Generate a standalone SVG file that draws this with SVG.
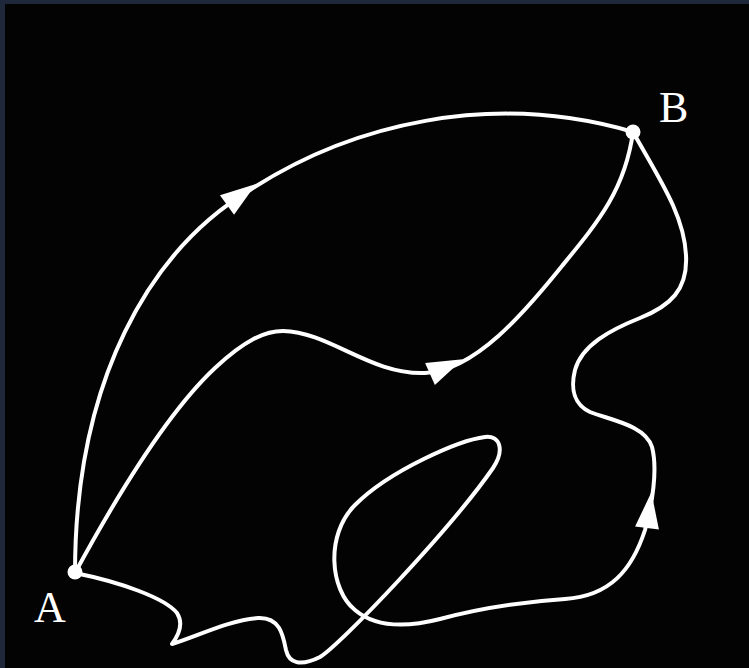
<svg xmlns="http://www.w3.org/2000/svg" width="749" height="668" viewBox="0 0 749 668">
  <defs>
    <style>
      .path { fill: none; stroke: #ffffff; stroke-width: 4; stroke-linecap: round; stroke-linejoin: round; }
      .arrow { fill: #ffffff; stroke: none; }
      .dot { fill: #ffffff; }
      .label { fill: #ffffff; font-family: "Liberation Serif", "Times New Roman", serif; font-size: 44px; }
    </style>
    <path id="arrowhead" d="M36,0 L0,-12 L0,12 Z"/>
  </defs>
  <rect x="0" y="0" width="749" height="668" fill="#1f273a"/>
  <rect x="5" y="4" width="744" height="664" fill="#030303"/>
  <g id="connectors">
    <path id="path-top" class="path" d="M75,573 C75,380 150,250 250,190 C350,125 490,90 633,132"/>
    <path id="path-middle" class="path" d="M75,573 C120,490 170,410 215,368 C245,340 265,331 283,331 C330,332 370,375 425,373 C475,371 525,312 562,266 C598,222 625,190 633,132"/>
    <path id="path-wiggle" class="path" d="M75,573 C120,582 165,598 177,613 C184,624 178,636 172,644 C200,635 230,620 258,618 C280,617 283,635 286,650 C289,663 300,667 320,657 C340,645 450,530 493,468 C505,450 500,435 485,437 C460,440 390,470 355,505 C325,535 330,590 355,610 C375,627 405,628 440,619 C480,608 520,602 565,599 C610,596 632,570 645,530 C652,505 658,470 652,447 C645,425 610,420 590,412 C575,405 570,390 575,370 C582,345 610,330 640,318 C670,306 688,290 686,255 C684,215 660,180 633,132"/>
    <use href="#arrowhead" class="arrow" transform="translate(227,205) rotate(-36)"/>
    <use href="#arrowhead" class="arrow" transform="translate(430,374) rotate(-24)"/>
    <use href="#arrowhead" class="arrow" transform="translate(647,528) rotate(-83)"/>
  </g>
  <g id="node-A">
    <circle class="dot" cx="75" cy="572" r="7.5"/>
    <text class="label" x="34" y="622">A</text>
  </g>
  <g id="node-B">
    <circle class="dot" cx="633" cy="132" r="7.5"/>
    <text class="label" x="659" y="122">B</text>
  </g>
</svg>
